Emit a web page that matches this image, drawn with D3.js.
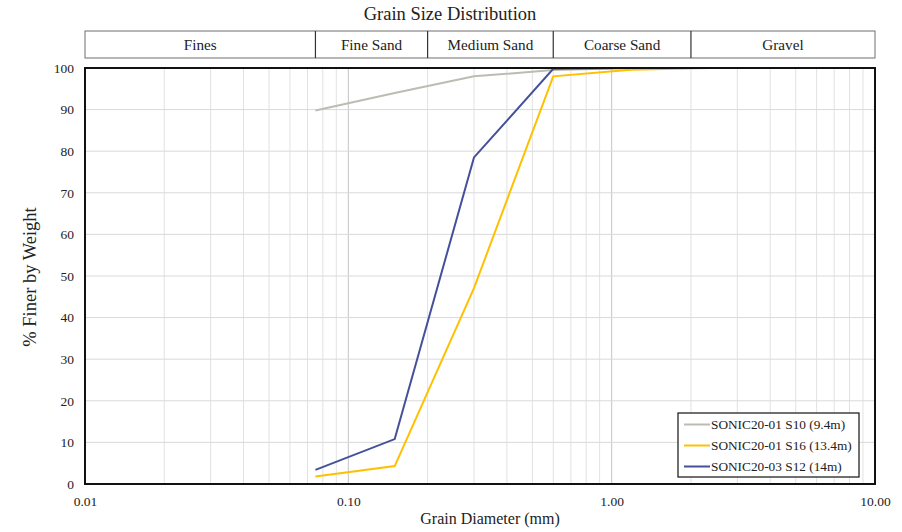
<!DOCTYPE html>
<html>
<head>
<meta charset="utf-8">
<script src="https://cdn.jsdelivr.net/npm/d3@7"></script>
<style>
  html, body { margin: 0; padding: 0; background: #fff; }
  svg text { font-family: "Liberation Serif", "Times New Roman", serif; fill: #222; }
</style>
</head>
<body>
<svg id="chart" width="902" height="532"></svg>
<script>
// Sieve sizes (mm) and percent passing for each sample
const sieveSizes = [0.075, 0.15, 0.3, 0.6, 1.18, 2.36, 4.75];
const s10 = [89.8, 94.0, 98.0, 99.5, 100, 100, 100];
const s16 = [1.8, 4.3, 47.1, 98.0, 99.6, 100, 100];
const s12 = [3.4, 10.8, 78.5, 99.8, 100, 100, 100];

const seriesNames = ["SONIC20-01 S10 (9.4m)", "SONIC20-01 S16 (13.4m)", "SONIC20-03 S12 (14m)"];
const seriesColors = ["#bdbcb2", "#ffc000", "#44509a"];

// Soil classification bands (mm)
const bandNames = ["Fines", "Fine Sand", "Medium Sand", "Coarse Sand", "Gravel"];
const bandEdges = [0.01, 0.075, 0.2, 0.6, 2.0, 10];

const xTicks = [0.01, 0.1, 1, 10];
const yTicks = [0, 10, 20, 30, 40, 50, 60, 70, 80, 90, 100];

const svg = d3.select("#chart");
const m = { left: 85, right: 875, top: 68, bottom: 484 };

const x = d3.scaleLog().domain([0.01, 10]).range([m.left, m.right]);
const y = d3.scaleLinear().domain([0, 100]).range([m.bottom, m.top]);

// Title
svg.append("text").attr("x", 450).attr("y", 20).attr("text-anchor", "middle")
  .style("font-size", "18.5px").text("Grain Size Distribution");

// Classification band header
const band = svg.append("g");
band.append("rect").attr("x", x(bandEdges[0])).attr("y", 31)
  .attr("width", x(bandEdges[5]) - x(bandEdges[0])).attr("height", 27)
  .attr("fill", "none").attr("stroke", "#6f6f6f").attr("stroke-width", 1);
bandNames.forEach((name, i) => {
  const x0 = x(bandEdges[i]), x1 = x(bandEdges[i + 1]);
  if (i > 0) band.append("line").attr("x1", x0).attr("x2", x0).attr("y1", 31).attr("y2", 58)
    .attr("stroke", "#333").attr("stroke-width", 1.2);
  band.append("text").attr("x", (x0 + x1) / 2).attr("y", 50).attr("text-anchor", "middle")
    .style("font-size", "15.2px").text(name);
});

// Gridlines
const grid = svg.append("g");
const minor = [];
[0.01, 0.1, 1].forEach(d => { for (let k = 2; k <= 9; k++) minor.push(d * k); });
grid.selectAll(".vminor").data(minor).join("line")
  .attr("x1", d => x(d)).attr("x2", d => x(d)).attr("y1", m.top).attr("y2", m.bottom)
  .attr("stroke", "#e2e2e2").attr("stroke-width", 1);
grid.selectAll(".vmajor").data([0.1, 1]).join("line")
  .attr("x1", d => x(d)).attr("x2", d => x(d)).attr("y1", m.top).attr("y2", m.bottom)
  .attr("stroke", "#c4c4c4").attr("stroke-width", 1);
grid.selectAll(".hgrid").data(yTicks.slice(1, -1)).join("line")
  .attr("x1", m.left).attr("x2", m.right).attr("y1", d => y(d)).attr("y2", d => y(d))
  .attr("stroke", "#d9d9d9").attr("stroke-width", 1);

// Data lines
const data = [s10, s16, s12];
const line = d3.line().x((d, i) => x(sieveSizes[i])).y(d => y(d));
data.forEach((vals, i) => {
  svg.append("path").datum(vals).attr("d", line)
    .attr("fill", "none").attr("stroke", seriesColors[i]).attr("stroke-width", 2)
    .attr("stroke-linejoin", "miter");
});

// Plot frame
svg.append("rect").attr("x", m.left).attr("y", m.top)
  .attr("width", m.right - m.left).attr("height", m.bottom - m.top)
  .attr("fill", "none").attr("stroke", "#111").attr("stroke-width", 2);

// Axes
const xAxis = d3.axisBottom(x).tickValues(xTicks).tickFormat(d3.format(".2f")).tickSize(0).tickPadding(12);
svg.append("g").attr("transform", `translate(0,${m.bottom})`).call(xAxis)
  .call(g => g.select(".domain").remove())
  .call(g => g.selectAll("text").style("font-size", "13.5px").attr("fill", "#222")
    .style("font-family", '"Liberation Serif", serif'));

const yAxis = d3.axisLeft(y).tickValues(yTicks).tickSize(0).tickPadding(11);
svg.append("g").attr("transform", `translate(${m.left},0)`).call(yAxis)
  .call(g => g.select(".domain").remove())
  .call(g => g.selectAll("text").style("font-size", "13.5px").attr("fill", "#222")
    .style("font-family", '"Liberation Serif", serif'));

// Axis titles
svg.append("text").attr("x", 490).attr("y", 524).attr("text-anchor", "middle")
  .style("font-size", "16px").text("Grain Diameter (mm)");
svg.append("text").attr("transform", "translate(36,277) rotate(-90)").attr("text-anchor", "middle")
  .style("font-size", "18.5px").text("% Finer by Weight");

// Legend
const lg = svg.append("g").attr("transform", "translate(678,413)");
lg.append("rect").attr("width", 181).attr("height", 64)
  .attr("fill", "#fff").attr("stroke", "#111").attr("stroke-width", 1.2);
seriesNames.forEach((name, i) => {
  const ly = 11.5 + i * 21;
  lg.append("line").attr("x1", 6).attr("x2", 32).attr("y1", ly).attr("y2", ly)
    .attr("stroke", seriesColors[i]).attr("stroke-width", 2);
  lg.append("text").attr("x", 33).attr("y", ly + 4.6).style("font-size", "13.3px").text(name);
});
</script>
</body>
</html>
